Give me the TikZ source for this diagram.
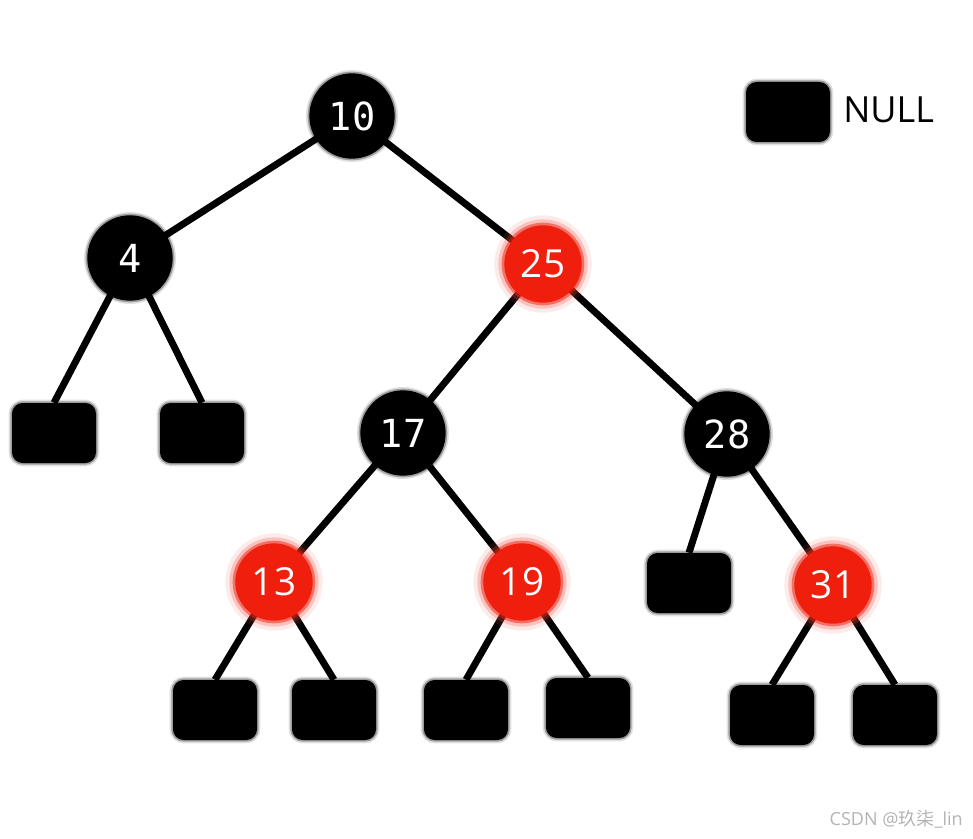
\documentclass[tikz,border=0pt]{standalone}
\usepackage{fontspec}
\setmainfont{Open Sans}
\newfontfamily\monof{DejaVu Sans Mono}
\newfontfamily\cjkf{Noto Sans CJK SC}
\usetikzlibrary{backgrounds}
\definecolor{rbred}{RGB}{240,30,12}
\definecolor{wmgray}{RGB}{180,180,180}
\tikzset{
  blk/.style={circle, fill=black, minimum size=64pt, inner sep=0pt, text=white,
    font=\monof\fontsize{29}{29}\selectfont,
    preaction={draw=black, line width=5pt, opacity=0.12},
    preaction={draw=black, line width=2.5pt, opacity=0.3}},
  rdn/.style={circle, fill=rbred, minimum size=58pt, inner sep=0pt, text=white,
    font=\fontsize{29}{29}\selectfont,
    preaction={draw=rbred!70, line width=15pt, opacity=0.12},
    preaction={draw=rbred!80, line width=9pt, opacity=0.25},
    preaction={draw=rbred, line width=4pt, opacity=0.5}},
  nullbox/.style={rectangle, rounded corners=8pt, fill=black, minimum width=63pt,
    minimum height=45pt, inner sep=0pt,
    preaction={draw=black, line width=5pt, opacity=0.12, rounded corners=8pt},
    preaction={draw=black, line width=2.5pt, opacity=0.3, rounded corners=8pt}},
  edge/.style={line width=5.2pt, black}
}
\begin{document}
\begin{tikzpicture}[x=0.75pt, y=-0.75pt]
\useasboundingbox (0,0) rectangle (973,838);
% circles
\node[blk] (n10) at (352,116) {10};
\node[blk] (n4) at (130,258) {4};
\node[rdn] (n25) at (543,264) {25};
\node[blk] (n17) at (403,433) {17};
\node[blk] (n28) at (727,434) {28};
\node[rdn] (n13) at (274,582) {13};
\node[rdn] (n19) at (522,582) {19};
\node[rdn] (n31) at (833,585) {31};
% null boxes
\node[nullbox] (b1) at (54,433) {};
\node[nullbox] (b2) at (202,433) {};
\node[nullbox] (b3) at (689,583) {};
\node[nullbox] (b4) at (215,710) {};
\node[nullbox] (b5) at (334,710) {};
\node[nullbox] (b6) at (466,710) {};
\node[nullbox] (b7) at (588,708) {};
\node[nullbox] (b8) at (772,715) {};
\node[nullbox] (b9) at (895,715) {};
% legend
\node[nullbox] (leg) at (788,112) {};
\node[anchor=west, font=\fontsize{27}{27}\selectfont, inner sep=0pt] (legt) at (843,110) {NULL};
% watermark
\node[anchor=east, text=wmgray, font=\fontsize{13.5}{13.5}\selectfont, inner sep=0pt] (wm) at (963,819) {CSDN @{\cjkf 玖柒}\_lin};
\begin{scope}[on background layer]
\fill[white] (0,0) rectangle (973,838);
\draw[edge] (n10.center) -- (n4.center);
\draw[edge] (n10.center) -- (n25.center);
\draw[edge] (n25.center) -- (n17.center);
\draw[edge] (n25.center) -- (n28.center);
\draw[edge] (n17.center) -- (n13.center);
\draw[edge] (n17.center) -- (n19.center);
\draw[edge] (n4.center) -- (b1.north);
\draw[edge] (n4.center) -- (b2.north);
\draw[edge] (n28.center) -- (b3.north);
\draw[edge] (n28.center) -- (n31.center);
\draw[edge] (n13.center) -- (b4.north);
\draw[edge] (n13.center) -- (b5.north);
\draw[edge] (n19.center) -- (b6.north);
\draw[edge] (n19.center) -- (b7.north);
\draw[edge] (n31.center) -- (b8.north);
\draw[edge] (n31.center) -- (b9.north);
\end{scope}
\end{tikzpicture}
\end{document}
